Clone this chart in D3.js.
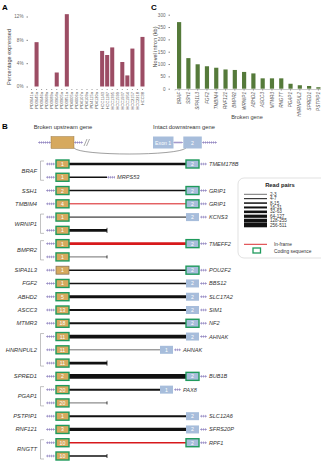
<!DOCTYPE html>
<html><head><meta charset="utf-8">
<script src="https://cdn.jsdelivr.net/npm/d3@7"></script>
<style>
body{margin:0;background:#fff}
svg{font-family:"Liberation Sans",Arial,sans-serif}
</style></head><body>
<svg id="fig" width="321" height="461"></svg>
<script>
// panel A
var samples = ["PD3641a","PD3645a","PD3646a","PD3668a","PD3689a","PD3904a","PD3905a","PD3851a",
  "PD4005a","PD4006a","PD4107a","PD4109a","PD4115a","PD4120a",
  "HCC1143","HCC1187","HCC1395","HCC1599","HCC1937","HCC1954","HCC2157","HCC2218","HCC38"];
var pctExpressed = [0,7.6,0,0,0,2.4,0,12.4,0,0,0,0,0,0,6.1,5.4,6.7,0,4.2,1.9,6.5,0,8.5];
var pctTicks = [0,4,8,12];

// panel C
var brokenGenes = ["BRAF","SSH1","SIPA1L3","FGF2","TMBIM4","RNF121","BMPR2","WRNIP1","ABHD2",
  "ASCC3","MTMR3","RNGTT","PGAP1","HNRNPUL2","SPRED1","PSTPIP1"];
var novelIntronKb = [270,124,99,91,85,78,76,68,62,42,42,42,20,14,11,6];
var kbTicks = [0,50,100,150,200,250,300];

// panel B
var fusUp      = ["BRAF","BRAF","SSH1","TMBIM4","WRNIP1","WRNIP1","BMPR2","BMPR2","SIPA1L3","FGF2","ABHD2","ASCC3","MTMR3","HNRNPUL2","HNRNPUL2","HNRNPUL2","SPRED1","PGAP1","PGAP1","PSTPIP1","RNF121","RNGTT","RNGTT"];
var fusUpExon  = [1,1,2,4,1,1,1,1,1,1,5,13,18,11,11,11,2,20,20,1,3,10,10];
var fusPartner = ["TMEM178B","MRPS53","GRIP1","GRIP1","KCNS3","","TMEFF2","","POU2F2","BBS12","SLC17A2","SIM1","NF2","AHNAK","AHNAK","","BUB1B","PAX8","","SLC12A6","SFRS20P","RPF1",""];
var fusPartnerExon = [2,0,2,2,2,null,2,null,2,2,2,2,2,2,1,null,2,1,null,2,2,2,null];
var fusReadPairs = [40,12,10,5,6,35,40,3,12,11,80,20,18,150,3,50,300,25,2,20,70,9,10];
var fusInFrame   = [0,0,0,1,0,0,1,0,0,0,0,0,0,0,0,0,0,0,0,0,0,1,0];
var fusUpCoding  = [1,1,1,1,1,1,1,1,0,1,1,1,1,1,1,1,1,1,1,1,1,1,1];
var fusDownCoding= [1,0,1,1,0,0,1,0,1,0,0,0,1,0,0,0,1,0,0,0,0,1,0];
var readPairBins = ["2-3","4-7","8-15","16-31","32-63","64-127","128-255","256-511"];
var binLower = [4,8,16,32,64,128,256];

var svg = d3.select("#fig");
var tan = "#d6a95e", blue = "#a7bddb", green = "#1f9a5c", purple = "#7d6fb5", red = "#d7191c";

// ---------- A
var xA = d3.scaleBand().domain(samples).range([29, 145]).paddingInner(0.2).paddingOuter(0.1);
var yA = d3.scaleLinear().domain([0, 12]).range([86.5, 16.5]);

svg.append("text").attr("x", 2).attr("y", 10).attr("font-size", 8).attr("font-weight", "bold").text("A");

var axA = svg.append("g").attr("transform", "translate(28,0)")
  .call(d3.axisLeft(yA).tickValues(pctTicks).tickFormat(d => d + "%").tickSize(1.5));
axA.select(".domain").remove();
axA.selectAll("text").attr("font-size", 4.6).attr("fill", "#666").attr("font-family", "inherit");
axA.selectAll("line").attr("stroke", "#888");

svg.append("text").attr("transform", "translate(11,57) rotate(-90)")
  .attr("text-anchor", "middle").attr("font-size", 5.6).attr("fill", "#444").text("Percentage expressed");

svg.append("g").selectAll("rect").data(samples).enter().append("rect")
  .attr("x", d => xA(d)).attr("width", xA.bandwidth())
  .attr("y", (d, i) => yA(pctExpressed[i]))
  .attr("height", (d, i) => yA(0) - yA(pctExpressed[i]))
  .attr("fill", "#9c4d64");

var bxA = svg.append("g").attr("transform", "translate(0,89)")
  .call(d3.axisBottom(xA).tickSize(1).tickPadding(1.5));
bxA.select(".domain").remove();
bxA.selectAll("line").attr("stroke", "#999");
bxA.selectAll("text").attr("font-size", 4).attr("fill", "#555").attr("font-family", "inherit")
  .attr("transform", "rotate(-90)").attr("text-anchor", "end")
  .attr("x", -3).attr("y", 0).attr("dy", "0.35em");

// ---------- C
var xC = d3.scaleBand().domain(brokenGenes).range([174.5, 323]).paddingInner(0.55).paddingOuter(0.27);
var yC = d3.scaleLinear().domain([0, 300]).range([88.7, 14.7]);

svg.append("text").attr("x", 151).attr("y", 10).attr("font-size", 8).attr("font-weight", "bold").text("C");

var axC = svg.append("g").attr("transform", "translate(170,0)")
  .call(d3.axisLeft(yC).tickValues(kbTicks).tickSize(1.5));
axC.select(".domain").remove();
axC.selectAll("text").attr("font-size", 4.6).attr("fill", "#666").attr("font-family", "inherit");
axC.selectAll("line").attr("stroke", "#888");

svg.append("text").attr("transform", "translate(157,47) rotate(-90)")
  .attr("text-anchor", "middle").attr("font-size", 5.6).attr("fill", "#444").text("Novel intron (kb)");

svg.append("g").selectAll("rect").data(brokenGenes).enter().append("rect")
  .attr("x", d => xC(d)).attr("width", xC.bandwidth())
  .attr("y", (d, i) => yC(novelIntronKb[i]))
  .attr("height", (d, i) => yC(0) - yC(novelIntronKb[i]))
  .attr("fill", "#557a3a");

var bxC = svg.append("g").attr("transform", "translate(0,89)")
  .call(d3.axisBottom(xC).tickSize(1.5).tickPadding(1.5));
bxC.select(".domain").attr("stroke", "#999").attr("stroke-width", 0.5);
bxC.selectAll("line").attr("stroke", "#999");
bxC.selectAll("text").attr("font-size", 4.6).attr("fill", "#555").attr("font-family", "inherit")
  .attr("font-style", "italic")
  .attr("transform", "rotate(-90)").attr("text-anchor", "end")
  .attr("x", -3).attr("y", 0).attr("dy", "0.35em");

svg.append("text").attr("x", 247).attr("y", 119).attr("text-anchor", "middle")
  .attr("font-size", 5.6).attr("fill", "#444").text("Broken gene");

// ---------- B
svg.append("text").attr("x", 2).attr("y", 129).attr("font-size", 8).attr("font-weight", "bold").text("B");

function marks(g, x0, x1, y) {
  g.append("line").attr("x1", x0).attr("x2", x1).attr("y1", y).attr("y2", y)
    .attr("stroke", purple).attr("stroke-width", 0.6);
  d3.range(x0 + 1.5, x1, 2).forEach(function (x) {
    g.append("line").attr("x1", x).attr("x2", x).attr("y1", y - 1.3).attr("y2", y + 1.3)
      .attr("stroke", purple).attr("stroke-width", 0.5);
  });
}

// schematic
var sch = svg.append("g");
sch.append("text").attr("x", 63).attr("y", 129).attr("text-anchor", "middle").attr("font-size", 5.8).attr("fill", "#333").text("Broken upstream gene");
sch.append("text").attr("x", 184).attr("y", 129).attr("text-anchor", "middle").attr("font-size", 5.8).attr("fill", "#333").text("Intact downstream gene");
marks(sch, 38, 51, 142.5);
sch.append("path").attr("d", "M74,148 C80,156 178,156 186,148").attr("fill", "none").attr("stroke", "#777").attr("stroke-width", 0.7);
sch.append("rect").attr("x", 51).attr("y", 136.5).attr("width", 23).attr("height", 12).attr("fill", tan).attr("stroke", "#8a6a3a").attr("stroke-width", 0.4);
marks(sch, 74, 83, 142.5);
sch.append("path").attr("d", "M84,146 L87,139 M86.5,146 L89.5,139").attr("stroke", "#555").attr("stroke-width", 0.5);
sch.append("rect").attr("x", 153).attr("y", 136.5).attr("width", 20.5).attr("height", 12).attr("fill", blue);
sch.append("text").attr("x", 163.2).attr("y", 144.5).attr("text-anchor", "middle").attr("font-size", 5.2).attr("fill", "#fff").text("Exon 1");
marks(sch, 173.5, 183, 142.5);
sch.append("rect").attr("x", 183.3).attr("y", 136.5).attr("width", 18.5).attr("height", 12).attr("fill", blue);
sch.append("text").attr("x", 192.5).attr("y", 144.5).attr("text-anchor", "middle").attr("font-size", 5.2).attr("fill", "#fff").text("2");
marks(sch, 202, 217, 142.5);

var yB = d3.scalePoint().domain(d3.range(fusUp.length)).range([164, 456]);
var lw = d3.scaleThreshold().domain(binLower).range([0.6, 1, 1.5, 2, 2.6, 3.2, 3.8, 4.6]);

var rowsG = svg.append("g");
fusUp.forEach(function (g, i) {
  var y = yB(i), row = rowsG.append("g");
  var pe = fusPartnerExon[i];
  var endX = pe === 2 ? 186 : pe === 1 ? 160 : 107;
  marks(row, 46, 55, y);
  row.append("line").attr("x1", 69).attr("x2", endX).attr("y1", y).attr("y2", y)
    .attr("stroke", fusInFrame[i] ? red : "#111").attr("stroke-width", lw(fusReadPairs[i]));
  if (pe === null) {
    var h = lw(fusReadPairs[i]) + 2.5;
    row.append("line").attr("x1", endX).attr("x2", endX).attr("y1", y - h / 2).attr("y2", y + h / 2)
      .attr("stroke", "#111").attr("stroke-width", 0.8);
  }
  row.append("rect").attr("x", 56).attr("y", y - 4).attr("width", 13).attr("height", 8)
    .attr("fill", tan).attr("stroke", fusUpCoding[i] ? green : "#7a6a55").attr("stroke-width", fusUpCoding[i] ? 1.4 : 0.7);
  row.append("text").attr("x", 62.5).attr("y", y + 2).attr("text-anchor", "middle")
    .attr("font-size", 5.2).attr("fill", "#fff").text(fusUpExon[i]);
  if (pe === 2 || pe === 1) {
    var bx = pe === 2 ? 186 : 160;
    row.append("rect").attr("x", bx).attr("y", y - 4).attr("width", 13).attr("height", 8)
      .attr("fill", blue).attr("stroke", fusDownCoding[i] ? green : "none").attr("stroke-width", 1.4);
    row.append("text").attr("x", bx + 6.5).attr("y", y + 2).attr("text-anchor", "middle")
      .attr("font-size", 5.2).attr("fill", "#fff").text(pe);
    marks(row, bx + 14, bx + 21, y);
    row.append("text").attr("x", bx + 23).attr("y", y + 2).attr("font-size", 5.6)
      .attr("font-style", "italic").attr("fill", "#333").text(fusPartner[i]);
  } else if (fusPartner[i]) {
    marks(row, endX, endX + 8, y);
    row.append("text").attr("x", endX + 10).attr("y", y + 2).attr("font-size", 5.6)
      .attr("font-style", "italic").attr("fill", "#333").text(fusPartner[i]);
  }
});

// gene labels with brackets
var groups = [];
fusUp.forEach(function (g, i) {
  if (groups.length && groups[groups.length - 1].gene === g) groups[groups.length - 1].rows.push(i);
  else groups.push({gene: g, rows: [i]});
});
groups.forEach(function (gr) {
  var y0 = yB(gr.rows[0]), y1 = yB(gr.rows[gr.rows.length - 1]);
  rowsG.append("text").attr("x", 37).attr("y", (y0 + y1) / 2 + 2).attr("text-anchor", "end")
    .attr("font-size", 5.8).attr("font-style", "italic").attr("fill", "#333").text(gr.gene);
  if (gr.rows.length > 1) {
    rowsG.append("path").attr("d", "M44," + (y0 - 3) + "H40.5V" + (y1 + 3) + "H44")
      .attr("fill", "none").attr("stroke", "#999").attr("stroke-width", 0.6);
  }
});

// legend
var lg = svg.append("g");
lg.append("rect").attr("x", 238).attr("y", 178).attr("width", 90).attr("height", 80).attr("rx", 6)
  .attr("fill", "#fff").attr("stroke", "#ccc").attr("stroke-width", 0.6);
lg.append("text").attr("x", 280).attr("y", 187).attr("text-anchor", "middle").attr("font-size", 5.8)
  .attr("font-weight", "bold").attr("fill", "#222").text("Read pairs");
var yL = d3.scalePoint().domain(readPairBins).range([194.3, 225]);
var binSample = [2].concat(binLower);
readPairBins.forEach(function (b, i) {
  lg.append("line").attr("x1", 244).attr("x2", 267).attr("y1", yL(b)).attr("y2", yL(b))
    .attr("stroke", "#111").attr("stroke-width", lw(binSample[i]));
  lg.append("text").attr("x", 270).attr("y", yL(b) + 1.6).attr("font-size", 4.6).attr("fill", "#333").text(b);
});
lg.append("line").attr("x1", 244).attr("x2", 267).attr("y1", 244.3).attr("y2", 244.3)
  .attr("stroke", red).attr("stroke-width", 0.9);
lg.append("text").attr("x", 274).attr("y", 246).attr("font-size", 4.8).attr("fill", "#333").text("In-frame");
lg.append("rect").attr("x", 253).attr("y", 248).attr("width", 7.5).attr("height", 5)
  .attr("fill", "#fff").attr("stroke", green).attr("stroke-width", 1.3);
lg.append("text").attr("x", 274).attr("y", 252.5).attr("font-size", 4.8).attr("fill", "#333").text("Coding sequence");
</script>
</body></html>
